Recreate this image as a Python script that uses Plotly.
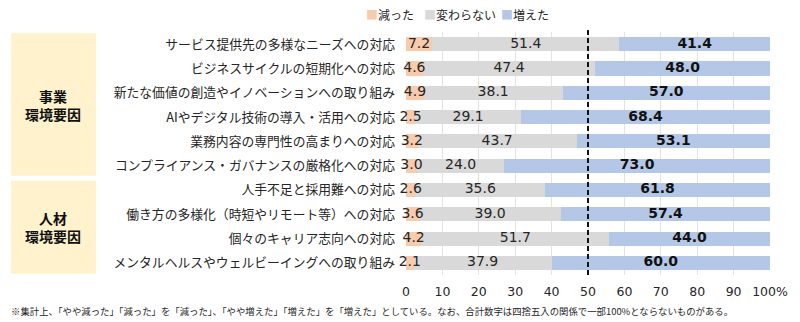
import plotly.graph_objects as go

categories = [
    "サービス提供先の多様なニーズへの対応",
    "ビジネスサイクルの短期化への対応",
    "新たな価値の創造やイノベーションへの取り組み",
    "AIやデジタル技術の導入・活用への対応",
    "業務内容の専門性の高まりへの対応",
    "コンプライアンス・ガバナンスの厳格化への対応",
    "人手不足と採用難への対応",
    "働き方の多様化（時短やリモート等）への対応",
    "個々のキャリア志向への対応",
    "メンタルヘルスやウェルビーイングへの取り組み",
]
decreased = [7.2, 4.6, 4.9, 2.5, 3.2, 3.0, 2.6, 3.6, 4.2, 2.1]
unchanged = [51.4, 47.4, 38.1, 29.1, 43.7, 24.0, 35.6, 39.0, 51.7, 37.9]
increased = [41.4, 48.0, 57.0, 68.4, 53.1, 73.0, 61.8, 57.4, 44.0, 60.0]
series_names = ["減った", "変わらない", "増えた"]
tick_vals = [0, 10, 20, 30, 40, 50, 60, 70, 80, 90, 100]
tick_text = ["0", "10", "20", "30", "40", "50", "60", "70", "80", "90", "100%"]
groups = [("事業<br>環境要因", -0.45, 5.42), ("人材<br>環境要因", 5.62, 9.45)]
footnote = ("※集計上、「やや減った」「減った」を「減った」、「やや増えた」「増えた」を「増えた」としている。"
            "なお、合計数字は四捨五入の関係で一部100%とならないものがある。")

colors = ["#F8CBAD", "#D9D9D9", "#B4C7E7"]
JP = "Noto Sans CJK JP"
NUM = "DejaVu Sans"

fig = go.Figure()
for name, vals, col in zip(series_names, [decreased, unchanged, increased], colors):
    fig.add_trace(go.Bar(y=categories, x=vals, name=name, orientation="h",
                         marker=dict(color=col, line=dict(width=0)),
                         showlegend=False, hoverinfo="x+name"))

# value labels at segment centres
mid_dec = [d / 2 for d in decreased]
mid_unc = [d + u / 2 for d, u in zip(decreased, unchanged)]
mid_inc = [d + u + i / 2 for d, u, i in zip(decreased, unchanged, increased)]
fig.add_trace(go.Scatter(x=mid_dec, y=categories, mode="text", cliponaxis=False,
                         text=[f"{v:.1f}" for v in decreased],
                         textfont=dict(family=NUM, size=14, color="#262626"),
                         showlegend=False, hoverinfo="skip"))
fig.add_trace(go.Scatter(x=mid_unc, y=categories, mode="text", cliponaxis=False,
                         text=[f"{v:.1f}" for v in unchanged],
                         textfont=dict(family=NUM, size=14, color="#262626"),
                         showlegend=False, hoverinfo="skip"))
fig.add_trace(go.Scatter(x=mid_inc, y=categories, mode="text", cliponaxis=False,
                         text=[f"<b>{v:.1f}</b>" for v in increased],
                         textfont=dict(family=NUM, size=14, color="#111111"),
                         showlegend=False, hoverinfo="skip"))

# dashed 50% line
fig.add_shape(type="line", xref="x", yref="paper", x0=50, x1=50, y0=0, y1=1.01,
              line=dict(color="#111111", width=2, dash="5px,3px"), layer="above")

# group boxes
for label, y0, y1 in groups:
    fig.add_shape(type="rect", xref="paper", yref="y", x0=-1.085, x1=-0.852,
                  y0=y0, y1=y1, fillcolor="#FFF2CC", line=dict(width=0), layer="below")
    fig.add_annotation(xref="paper", yref="y", x=-0.9685, y=(y0 + y1) / 2,
                       xanchor="center", yanchor="middle",
                       text=f"<b>{label}</b>", showarrow=False,
                       font=dict(family=JP, size=14, color="#111111"), align="center")

# legend drawn as text
legend_x = [-0.115, 0.045, 0.256]
for name, col, lx in zip(series_names, colors, legend_x):
    fig.add_annotation(xref="paper", yref="paper", x=lx, y=1.074, xanchor="left",
                       yanchor="middle", showarrow=False,
                       text=f'<span style="color:{col}">■</span>{name}',
                       font=dict(family=JP, size=12, color="#262626"))

fig.add_annotation(xref="paper", yref="paper", x=-1.09, y=-0.148, xanchor="left",
                   yanchor="middle", showarrow=False, text=footnote,
                   font=dict(family=JP, size=9.4, color="#262626"))

fig.update_layout(
    barmode="stack", bargap=0.42,
    width=800, height=322,
    margin=dict(l=406, r=30, t=32, b=47),
    paper_bgcolor="white", plot_bgcolor="white",
    font=dict(family=JP, color="#262626"),
    xaxis=dict(range=[0, 100], tickvals=tick_vals, ticktext=tick_text,
               showgrid=True, gridcolor="#E3E3E3", gridwidth=1, zeroline=False,
               tickfont=dict(family=NUM, size=12.5, color="#262626"),
               ticks="", ticklabelstandoff=7, fixedrange=True),
    yaxis=dict(autorange="reversed", tickfont=dict(family=JP, size=12.8, color="#262626"),
               ticks="", ticklabelstandoff=10, showgrid=False, fixedrange=True),
)

fig.write_html("out.html")
